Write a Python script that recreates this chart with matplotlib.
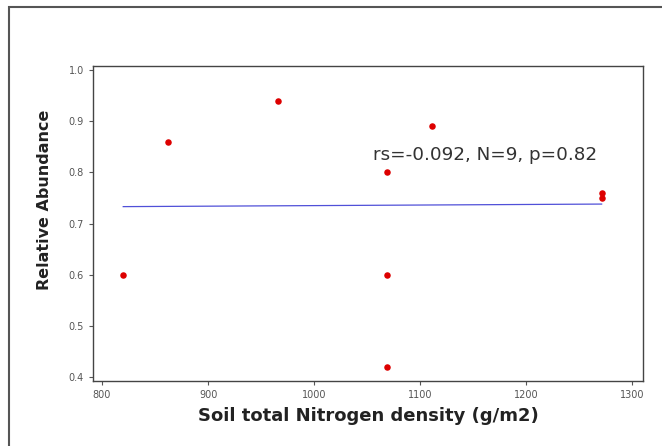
import matplotlib
matplotlib.use("Agg")
import matplotlib.pyplot as plt
from matplotlib.patches import Rectangle

nitrogen = [820, 862, 966, 1069, 1069, 1069, 1111, 1271, 1271]
abundance = [0.60, 0.86, 0.94, 0.80, 0.60, 0.42, 0.89, 0.76, 0.75]
fit_x = [820, 1271]
fit_y = [0.733, 0.738]
stats_text = "rs=-0.092, N=9, p=0.82"

fig = plt.figure(figsize=(6.62, 4.46), dpi=100)
fig.patches.append(Rectangle((9 / 662, -0.1), 1.2, 1 - 7 / 446 + 0.1,
                             transform=fig.transFigure, fill=False,
                             edgecolor="#555555", linewidth=1.5))
ax = fig.add_axes([93 / 662, 1 - 381 / 446, 550 / 662, 315 / 446])

ax.plot(fit_x, fit_y, color="#5050d8", linewidth=0.9)
ax.scatter(nitrogen, abundance, color="#dd0000", s=22, zorder=3, linewidths=0)
ax.text(1055, 0.834, stats_text, fontsize=13.2, color="#333333", va="center")

ax.set_xlim(791.5, 1310)
ax.set_ylim(0.392, 1.008)
ax.set_xticks([800, 900, 1000, 1100, 1200, 1300])
ax.set_yticks([0.4, 0.5, 0.6, 0.7, 0.8, 0.9, 1.0])
ax.set_yticklabels(["0.4", "0.5", "0.6", "0.7", "0.8", "0.9", "1.0"])
ax.tick_params(labelsize=7, colors="#555555", length=3, width=0.8)
for s in ax.spines.values():
    s.set_color("#444444")
    s.set_linewidth(1.0)

ax.set_xlabel("Soil total Nitrogen density (g/m2)", fontsize=13,
              fontweight="bold", color="#222222", labelpad=5)
ax.set_ylabel("Relative Abundance", fontsize=11.5, fontweight="bold",
              color="#222222")
ax.yaxis.set_label_coords(-0.0745, 0.575)

fig.savefig("out.png", dpi=100)
